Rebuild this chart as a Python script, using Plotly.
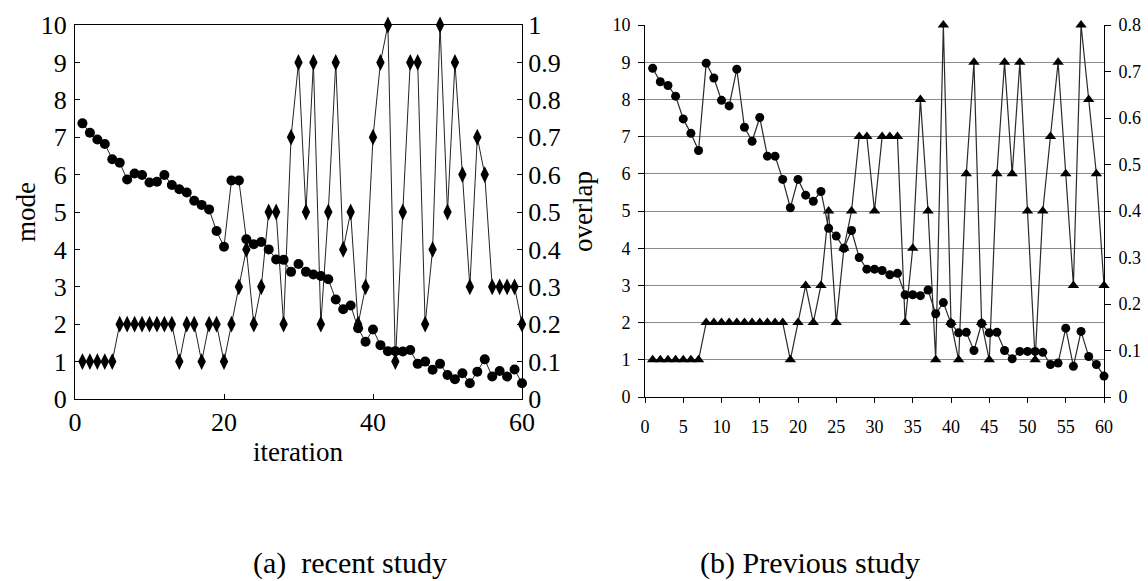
import plotly.graph_objects as go

# ---------------- data ----------------
iter_a = list(range(1, 61))
mode_a = [1, 1, 1, 1, 1, 2, 2, 2, 2, 2, 2, 2, 2, 1, 2, 2, 1, 2, 2, 1,
          2, 3, 4, 2, 3, 5, 5, 2, 7, 9, 5, 9, 2, 5, 9, 4, 5, 2, 3, 7,
          9, 10, 1, 5, 9, 9, 2, 4, 10, 5, 9, 6, 3, 7, 6, 3, 3, 3, 3, 2]
overlap_a = [0.737, 0.712, 0.694, 0.682, 0.641, 0.632, 0.587, 0.603, 0.599, 0.579,
             0.581, 0.599, 0.572, 0.561, 0.552, 0.530, 0.519, 0.507, 0.449, 0.407,
             0.584, 0.584, 0.427, 0.414, 0.420, 0.400, 0.373, 0.372, 0.340, 0.361,
             0.340, 0.333, 0.329, 0.320, 0.266, 0.240, 0.250, 0.189, 0.153, 0.186,
             0.144, 0.128, 0.128, 0.127, 0.131, 0.094, 0.100, 0.078, 0.094, 0.064,
             0.053, 0.069, 0.042, 0.073, 0.106, 0.060, 0.075, 0.060, 0.079, 0.042]

iter_b = list(range(1, 61))
mode_b = [1, 1, 1, 1, 1, 1, 1, 2, 2, 2, 2, 2, 2, 2, 2, 2, 2, 2, 1, 2,
          3, 2, 3, 5, 2, 4, 5, 7, 7, 5, 7, 7, 7, 2, 4, 8, 5, 1, 10, 2,
          1, 6, 9, 2, 1, 6, 9, 6, 9, 5, 1, 5, 7, 9, 6, 3, 10, 8, 6, 3]
overlap_b = [0.707, 0.678, 0.670, 0.647, 0.598, 0.567, 0.530, 0.718, 0.686, 0.638,
             0.626, 0.705, 0.580, 0.550, 0.601, 0.518, 0.518, 0.468, 0.407, 0.468,
             0.434, 0.421, 0.442, 0.363, 0.346, 0.320, 0.358, 0.300, 0.275, 0.275,
             0.272, 0.263, 0.266, 0.220, 0.220, 0.218, 0.230, 0.179, 0.203, 0.158,
             0.138, 0.139, 0.100, 0.158, 0.138, 0.139, 0.100, 0.082, 0.098, 0.098,
             0.098, 0.096, 0.070, 0.073, 0.148, 0.066, 0.141, 0.087, 0.070, 0.045]

ticks_a_x = [0, 20, 40, 60]
captions = ["(a)\u00a0 recent study", "(b) Previous study"]

# ---------------- figure ----------------
W, H = 1148, 581
SERIF = "Liberation Serif"

def px(x):
    return x / W

def py(y):
    return 1 - y / H

fig = go.Figure()

line_a = dict(color="#222222", width=1)
fig.add_trace(go.Scatter(x=iter_a, y=overlap_a, xaxis="x", yaxis="y2", mode="lines+markers",
                         line=line_a, marker=dict(symbol="circle", size=10, color="black"),
                         cliponaxis=False, showlegend=False))
fig.add_trace(go.Scatter(x=iter_a, y=mode_a, xaxis="x", yaxis="y", mode="lines+markers",
                         line=line_a, marker=dict(symbol="diamond-tall", size=12, color="black"),
                         cliponaxis=False, showlegend=False))

line_b = dict(color="#2a2a2a", width=1.2)
fig.add_trace(go.Scatter(x=iter_b, y=overlap_b, xaxis="x2", yaxis="y4", mode="lines+markers",
                         line=line_b, marker=dict(symbol="circle", size=9, color="black"),
                         cliponaxis=False, showlegend=False))
fig.add_trace(go.Scatter(x=iter_b, y=mode_b, xaxis="x2", yaxis="y3", mode="lines+markers",
                         line=line_b, marker=dict(symbol="triangle-up", size=10, color="black"),
                         cliponaxis=False, showlegend=False))

fa = dict(family=SERIF, size=26, color="black")
fb = dict(family=SERIF, size=18, color="black")

common = dict(showline=True, linecolor="black", linewidth=1, zeroline=False,
              tickcolor="black", tickwidth=1, automargin=False)

fig.update_layout(
    width=W, height=H, margin=dict(l=0, r=0, t=0, b=0),
    paper_bgcolor="white", plot_bgcolor="white",
    font=dict(family=SERIF, color="black"),
    xaxis=dict(domain=[px(75), px(522)], anchor="y", range=[0, 60], tickvals=ticks_a_x,
               ticks="inside", ticklen=5, mirror=True, showgrid=False, tickfont=fa, **common),
    yaxis=dict(domain=[py(399), py(25)], anchor="x", range=[0, 10], dtick=1,
               ticks="inside", ticklen=5, mirror=True, showgrid=False, tickfont=fa,
               ticklabelstandoff=2, **common),
    yaxis2=dict(overlaying="y", side="right", anchor="x", range=[0, 1], dtick=0.1,
                ticks="inside", ticklen=5, showgrid=False, tickfont=fa, **common),
    xaxis2=dict(domain=[px(645), px(1104)], anchor="y3", range=[0, 60], dtick=5,
                ticks="outside", ticklen=5, showgrid=False, tickfont=fb,
                ticklabelstandoff=8, **common),
    yaxis3=dict(domain=[py(397), py(25)], anchor="x2", range=[0, 10], dtick=1,
                ticks="outside", ticklen=6, showgrid=True, gridcolor="#8a8a8a", gridwidth=1,
                tickfont=fb, ticklabelstandoff=4, **common),
    yaxis4=dict(overlaying="y3", side="right", anchor="x2", range=[0, 0.8], dtick=0.1,
                ticks="outside", ticklen=6, showgrid=False, tickfont=fb,
                ticklabelstandoff=4, **common),
)

ann = [
    dict(text="mode", x=px(26), y=py(212), textangle=-90, font=dict(family=SERIF, size=27, color="black")),
    dict(text="overlap", x=px(583), y=py(212), textangle=-90, font=dict(family=SERIF, size=27, color="black")),
    dict(text="iteration", x=px(298), y=py(452), font=dict(family=SERIF, size=27, color="black")),
    dict(text=captions[0], x=px(350), y=py(563), font=dict(family=SERIF, size=30, color="black")),
    dict(text=captions[1], x=px(810), y=py(563), font=dict(family=SERIF, size=30, color="black")),
]
for a in ann:
    fig.add_annotation(xref="paper", yref="paper", xanchor="center", yanchor="middle",
                       showarrow=False, **a)

fig.write_html("out.html")
